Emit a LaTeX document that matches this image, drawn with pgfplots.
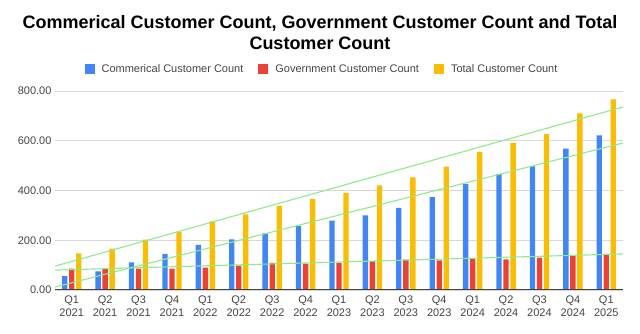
\documentclass[border=0pt]{standalone}
\usepackage{pgfplots}
\pgfplotsset{compat=1.18}
\usepackage{fontspec}
\setmainfont{Liberation Sans}
\definecolor{cblue}{HTML}{4285F4}
\definecolor{cred}{HTML}{EA4335}
\definecolor{cyel}{HTML}{FBBC04}
\definecolor{trend}{HTML}{8EEA8A}
\definecolor{gridc}{HTML}{D9D9D9}
\definecolor{txt}{HTML}{444444}
\begin{document}
\begin{tikzpicture}[x=1pt,y=1pt]
\useasboundingbox (0,0) rectangle (640,334);
\node[anchor=base,font=\bfseries\fontsize{18}{20}\selectfont,inner sep=0pt] at (320,305) {Commerical Customer Count, Government Customer Count and Total};
\node[anchor=base,font=\bfseries\fontsize{18}{20}\selectfont,inner sep=0pt] at (320,284) {Customer Count};
\begin{axis}[
  at={(55pt,44pt)}, anchor=south west,
  scale only axis, width=568pt, height=199pt,
  xmin=-0.5, xmax=16.5, ymin=0, ymax=800,
  xtick={0,...,16},
  xticklabels={{Q1\\2021},{Q2\\2021},{Q3\\2021},{Q4\\2021},{Q1\\2022},{Q2\\2022},{Q3\\2022},{Q4\\2022},{Q1\\2023},{Q2\\2023},{Q3\\2023},{Q4\\2023},{Q1\\2024},{Q2\\2024},{Q3\\2024},{Q4\\2024},{Q1\\2025}},
  xticklabel style={align=center,font=\fontsize{11}{13}\selectfont,text=txt,yshift=-2pt},
  yticklabel style={font=\fontsize{11}{13}\selectfont,text=txt},
  ytick={0,200,400,600,800},
  yticklabel={\pgfmathprintnumber[fixed,fixed zerofill,precision=2,assume math mode=true]{\tick}},
  major tick length=0pt,
  ymajorgrids, grid style={gridc,line width=0.8pt},
  axis line style={draw=none},
  axis x line*=bottom, axis y line*=left,
  legend columns=3,
  legend style={at={(0.5,1)},anchor=center,yshift=22pt,xshift=-18pt,draw=none,fill=none,
    font=\fontsize{11}{13}\selectfont, text=txt,
    nodes={inner sep=0pt},
    /tikz/every odd column/.append style={column sep=7pt},
    /tikz/every even column/.append style={column sep=15pt}},
  legend image code/.code={\fill[#1] (0pt,-5pt) rectangle (10pt,5pt);},
]
\addplot[ybar, bar width=0.16, bar shift=-0.21, fill=cblue, draw=none] coordinates {
(0,56) (1,75) (2,111) (3,145) (4,181) (5,204) (6,228) (7,257) (8,279) (9,300) (10,330) (11,373) (12,427) (13,466) (14,497) (15,568) (16,622)};
\addlegendentry{Commerical Customer Count}
\addplot[ybar, bar width=0.16, bar shift=0, fill=cred, draw=none] coordinates {
(0,86) (1,86) (2,86) (3,86) (4,90) (5,98) (6,109) (7,106) (8,109) (9,115) (10,122) (11,119) (12,126) (13,123) (14,130) (15,137) (16,145)};
\addlegendentry{Government Customer Count}
\addplot[ybar, bar width=0.16, bar shift=0.21, fill=cyel, draw=none] coordinates {
(0,147) (1,166) (2,202) (3,234) (4,276) (5,304) (6,338) (7,366) (8,390) (9,421) (10,453) (11,496) (12,555) (13,591) (14,627) (15,710) (16,766)};
\addlegendentry{Total Customer Count}
\addplot[forget plot, trend, line width=1.1pt, no marks] coordinates {(-0.5,12) (16.5,591)};
\addplot[forget plot, trend, line width=1.1pt, no marks] coordinates {(-0.5,80) (16.5,145)};
\addplot[forget plot, trend, line width=1.1pt, no marks] coordinates {(-0.5,96) (16.5,736)};
\draw[black!75, line width=1pt] (rel axis cs:0,0) -- (rel axis cs:1,0);
\end{axis}
\end{tikzpicture}
\end{document}
